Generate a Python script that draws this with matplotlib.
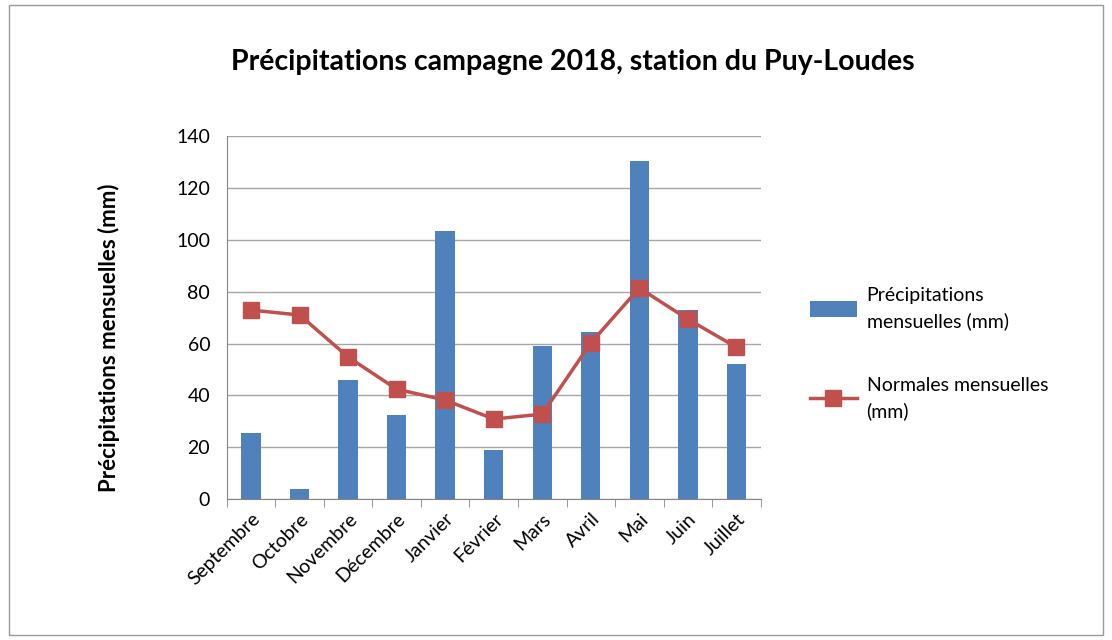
import matplotlib.pyplot as plt
from matplotlib.patches import Rectangle

plt.rcParams['font.family'] = ['Lato', 'DejaVu Sans']

mois = ["Septembre", "Octobre", "Novembre", "Décembre", "Janvier", "Février",
        "Mars", "Avril", "Mai", "Juin", "Juillet"]
precipitations = [25.5, 3.9, 45.9, 32.4, 103.4, 18.9, 59.0, 64.4, 130.3, 72.9, 52.0]
normales = [72.9, 71.0, 54.8, 42.4, 38.2, 30.9, 32.8, 60.2, 81.4, 69.4, 58.6]

fig = plt.figure(figsize=(11.12, 6.4), dpi=100)
ax = fig.add_axes([0.204, 0.22, 0.48, 0.5675])

x = list(range(len(mois)))
bars = ax.bar(x, precipitations, width=0.4, color="#4f81bd",
              label="Précipitations\nmensuelles (mm)", zorder=2)
line, = ax.plot(x, normales, color="#c0504d", lw=2.5, marker="s", markersize=11,
                label="Normales mensuelles\n(mm)", zorder=3)

ax.set_xlim(-0.5, len(mois) - 0.5)
ax.set_ylim(0, 140)
ax.set_yticks(range(0, 141, 20))
ax.grid(axis="y", color="#a6a6a6", lw=1, zorder=0)
ax.set_xticks(x)
ax.set_xticklabels(mois, rotation=45, ha="right", rotation_mode="anchor", fontsize=14)
ax.tick_params(axis="y", labelsize=14, length=0, pad=12)
ax.tick_params(axis="x", length=0, pad=8)

# category separators on the x axis
ax.set_xticks([i - 0.5 for i in range(len(mois) + 1)], minor=True)
ax.tick_params(axis="x", which="minor", length=6, color="#868686", direction="out")

for s in ["top", "right"]:
    ax.spines[s].set_visible(False)
ax.spines["left"].set_color("#868686")
ax.spines["bottom"].set_color("#868686")

ax.set_ylabel("Précipitations mensuelles (mm)", fontsize=16, fontweight="bold")
ax.yaxis.set_label_coords(-0.2, 0.445)
fig.text(0.515, 0.903, "Précipitations campagne 2018, station du Puy-Loudes",
         ha="center", va="center", fontsize=20.5, fontweight="bold")

leg = ax.legend(handles=[bars, line], loc="center left", bbox_to_anchor=(1.06, 0.40),
                frameon=False, fontsize=14, labelspacing=2.4, handlelength=2.4,
                handleheight=0.9, handletextpad=0.5)
for t in leg.get_texts():
    t.set_linespacing(1.55)

fig.patches.append(Rectangle((0.008, 0.008), 0.984, 0.984, transform=fig.transFigure,
                             fill=False, edgecolor="#9a9a9a", lw=1))

fig.savefig("out.png", dpi=100)
